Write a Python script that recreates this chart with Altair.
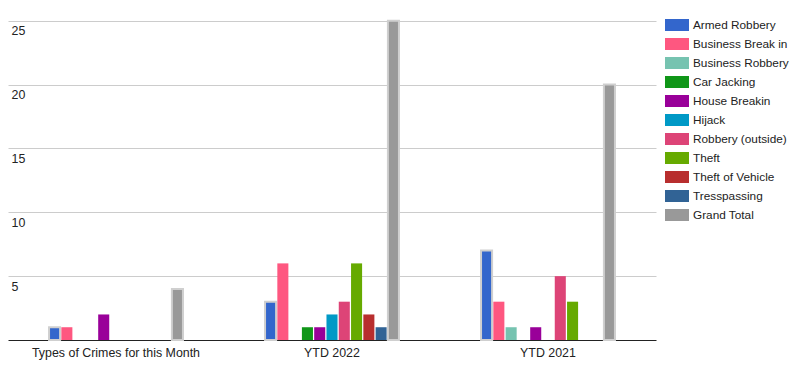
import altair as alt
import pandas as pd

groups = ["Types of Crimes for this Month", "YTD 2022", "YTD 2021"]
series = ["Armed Robbery", "Business Break in", "Business Robbery", "Car Jacking",
          "House Breakin", "Hijack", "Robbery (outside)", "Theft",
          "Theft of Vehicle", "Tresspassing", "Grand Total"]
colors = ["#3366cc", "#fe5780", "#76c3b0", "#109618", "#990099", "#0099c6",
          "#dd4477", "#66aa00", "#b82e2e", "#316395", "#999999"]

month_vals = [1, 1, 0, 0, 2, 0, 0, 0, 0, 0, 4]
ytd2022_vals = [3, 6, 0, 1, 1, 2, 3, 6, 2, 1, 25]
ytd2021_vals = [7, 3, 1, 0, 1, 0, 5, 3, 0, 0, 20]

rows = []
for g, vals in zip(groups, [month_vals, ytd2022_vals, ytd2021_vals]):
    for s, v in zip(series, vals):
        rows.append({"group": g, "series": s, "value": v})
df = pd.DataFrame(rows)

FONT = "Liberation Sans"
FS = 12.4

chart = alt.Chart(df).mark_bar(stroke="#cfcfcf").encode(
    x=alt.X("group:N", sort=groups, title=None,
            scale=alt.Scale(paddingInner=0.38, paddingOuter=0.19),
            axis=alt.Axis(labelAngle=0, ticks=False, domainColor="#222",
                          labelColor="#222", labelFontSize=FS, labelFont=FONT,
                          labelPadding=6, grid=False)),
    xOffset=alt.XOffset("series:N", sort=series,
                        scale=alt.Scale(paddingInner=0.1, paddingOuter=0)),
    y=alt.Y("value:Q", title=None,
            scale=alt.Scale(domain=[0, 26], nice=False),
            axis=alt.Axis(values=[5, 10, 15, 20, 25], domain=False, ticks=False,
                          labelAlign="left", labelBaseline="top", labelPadding=-3,
                          labelOffset=4, labelColor="#222", labelFontSize=FS,
                          labelFont=FONT, gridColor="#cccccc")),
    color=alt.Color("series:N", sort=series,
                    scale=alt.Scale(domain=series, range=colors),
                    legend=alt.Legend(title=None, orient="none", legendX=657, legendY=5,
                                      symbolType="M-1,-0.5H1V0.5H-1Z", symbolSize=576,
                                      symbolStrokeWidth=0, symbolOpacity=1,
                                      labelFontSize=11.8, labelFont=FONT, labelColor="#222",
                                      labelOffset=4, rowPadding=-2.6, padding=0,
                                      labelLimit=200)),
    strokeWidth=alt.condition("datum.series == 'Armed Robbery' || datum.series == 'Grand Total'",
                              alt.value(2), alt.value(0)),
).properties(
    width=648, height=332,
    padding={"left": 0, "top": 0, "right": 136, "bottom": 30},
    autosize=alt.AutoSizeParams(type="none"),
).configure_view(stroke=None)

chart.save("out.html", embed_options={"renderer": "svg", "actions": False})
